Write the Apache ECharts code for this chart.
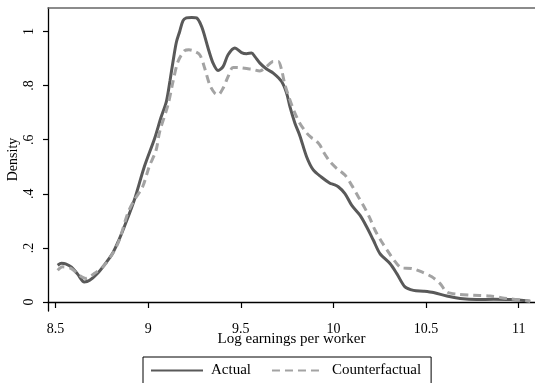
<!DOCTYPE html>
<html>
<head>
<meta charset="utf-8">
<script src="https://cdn.jsdelivr.net/npm/echarts@6/dist/echarts.min.js"></script>
<style>
html,body{margin:0;padding:0;background:#fff;}
#c{width:535px;height:383px;}
</style>
</head>
<body>
<div id="c"></div>
<script>
const xTicks = [8.5, 9, 9.5, 10, 10.5, 11];
const xTickLabels = ["8.5", "9", "9.5", "10", "10.5", "11"];
const yTicks = [0, 0.2, 0.4, 0.6, 0.8, 1];
const yTickLabels = ["0", ".2", ".4", ".6", ".8", "1"];
const seriesNames = ["Actual", "Counterfactual"];

const actualX = [8.511,8.532,8.554,8.586,8.619,8.655,8.684,8.727,8.770,8.808,8.841,8.871,8.925,8.979,9.035,9.068,9.098,9.118,9.134,9.152,9.170,9.188,9.206,9.235,9.261,9.288,9.306,9.323,9.350,9.377,9.404,9.431,9.468,9.504,9.531,9.558,9.576,9.603,9.639,9.675,9.720,9.747,9.765,9.792,9.819,9.855,9.891,9.936,9.981,9.999,10.026,10.062,10.098,10.143,10.179,10.215,10.251,10.305,10.342,10.386,10.432,10.486,10.540,10.612,10.684,10.774,10.864,10.954,11.062];
const actualY = [0.136,0.143,0.141,0.129,0.103,0.074,0.080,0.106,0.143,0.180,0.228,0.278,0.377,0.500,0.605,0.680,0.741,0.820,0.889,0.960,1.000,1.040,1.050,1.052,1.050,1.019,0.980,0.939,0.883,0.856,0.870,0.914,0.939,0.922,0.918,0.920,0.907,0.883,0.861,0.846,0.815,0.772,0.722,0.661,0.614,0.537,0.488,0.461,0.439,0.435,0.426,0.401,0.358,0.321,0.278,0.229,0.179,0.142,0.105,0.056,0.043,0.040,0.035,0.022,0.013,0.009,0.010,0.009,0.003];

const cfX = [8.511,8.538,8.583,8.628,8.664,8.709,8.763,8.808,8.844,8.889,8.925,8.970,9.005,9.042,9.062,9.107,9.134,9.161,9.197,9.220,9.242,9.278,9.305,9.332,9.359,9.377,9.404,9.431,9.458,9.495,9.539,9.558,9.603,9.639,9.675,9.702,9.720,9.738,9.765,9.792,9.819,9.855,9.882,9.900,9.927,9.945,9.981,10.017,10.062,10.098,10.134,10.170,10.197,10.224,10.261,10.296,10.332,10.368,10.423,10.477,10.531,10.576,10.612,10.666,10.756,10.846,10.936,11.062];
const cfY = [0.117,0.130,0.124,0.099,0.087,0.105,0.136,0.179,0.229,0.327,0.377,0.426,0.500,0.560,0.630,0.729,0.815,0.889,0.929,0.932,0.929,0.914,0.864,0.803,0.772,0.766,0.790,0.833,0.867,0.866,0.862,0.861,0.854,0.870,0.889,0.889,0.858,0.803,0.747,0.698,0.660,0.625,0.607,0.600,0.580,0.556,0.519,0.494,0.469,0.432,0.389,0.346,0.309,0.266,0.222,0.185,0.150,0.126,0.124,0.111,0.093,0.068,0.037,0.029,0.025,0.022,0.013,0.003];

const FONT = "Liberation Serif";
const pairs = (xs, ys) => xs.map((x, i) => [x, ys[i]]);

const chart = echarts.init(document.getElementById('c'), null, {renderer: 'canvas'});
chart.setOption({
  backgroundColor: '#ffffff',
  animation: false,
  grid: {left: 48, top: 8, right: 0, bottom: 72, containLabel: false, outerBoundsMode: 'none'},
  legend: {
    left: 143, top: 357,
    data: seriesNames,
    itemWidth: 52, itemHeight: 14, itemGap: 20,
    padding: [6, 10, 6, 7],
    borderColor: '#000', borderWidth: 1, borderRadius: 0,
    itemStyle: {color: 'rgba(0,0,0,0)', borderWidth: 0, opacity: 0},
    textStyle: {fontFamily: FONT, fontSize: 15, color: '#000', padding: [0, 0, 0, 3]}
  },
  xAxis: [{
    type: 'value', min: 8.459, max: 11.088,
    name: 'Log earnings per worker', nameLocation: 'middle', nameGap: 21, nameMoveOverlap: false,
    nameTextStyle: {fontFamily: FONT, fontSize: 15, color: '#000'},
    axisLine: {show: true, lineStyle: {color: '#000', width: 1.3}},
    axisTick: {show: true, length: 6, customValues: xTicks, lineStyle: {color: '#000', width: 1.2}},
    axisLabel: {customValues: xTicks, fontFamily: FONT, fontSize: 14, color: '#000', margin: 11,
      formatter: v => { const i = xTicks.findIndex(t => Math.abs(t - v) < 1e-6); return i >= 0 ? xTickLabels[i] : ''; }},
    splitLine: {show: false}
  }, {
    type: 'value', position: 'top', min: 8.459, max: 11.088,
    axisLine: {show: true, lineStyle: {color: '#666', width: 1.5}},
    axisTick: {show: false}, axisLabel: {show: false}, splitLine: {show: false}
  }],
  yAxis: {
    type: 'value', min: -0.0333, max: 1.0867,
    name: 'Density', nameLocation: 'middle', nameGap: 28, nameMoveOverlap: false,
    nameTextStyle: {fontFamily: FONT, fontSize: 14, color: '#000'},
    axisLine: {show: true, lineStyle: {color: '#000', width: 1.3}},
    axisTick: {show: true, length: 5, customValues: yTicks, lineStyle: {color: '#000', width: 1.2}},
    axisLabel: {customValues: yTicks, rotate: 90, fontFamily: FONT, fontSize: 14, color: '#000', margin: 12,
      formatter: v => { const i = yTicks.findIndex(t => Math.abs(t - v) < 1e-6); return i >= 0 ? yTickLabels[i] : ''; }},
    splitLine: {show: false}
  },
  series: [{
    name: seriesNames[0], type: 'line', data: pairs(actualX, actualY),
    showSymbol: false, symbol: 'none', smooth: 0.3,
    lineStyle: {color: '#595959', width: 3, type: 'solid'},
    itemStyle: {color: '#595959'}
  }, {
    name: seriesNames[1], type: 'line', data: pairs(cfX, cfY),
    showSymbol: false, symbol: 'none', smooth: 0.3,
    lineStyle: {color: '#a3a3a3', width: 3, type: [8, 5]},
    itemStyle: {color: '#a3a3a3'}
  }]
});
</script>
</body>
</html>
